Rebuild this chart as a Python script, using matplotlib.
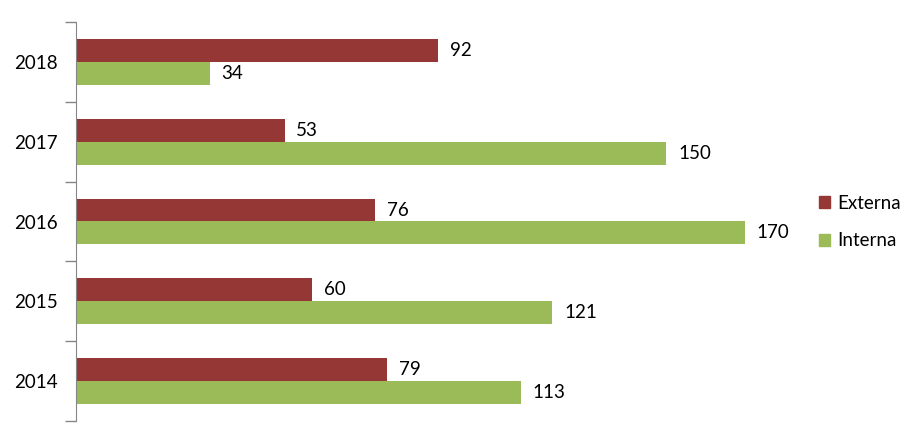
import numpy as np
import matplotlib.pyplot as plt
from matplotlib.patches import Patch

years = ['2014', '2015', '2016', '2017', '2018']
externa = [79, 60, 76, 53, 92]
interna = [113, 121, 170, 150, 34]

c_ext = '#953735'
c_int = '#9BBB59'

plt.rcParams['font.family'] = ['Lato', 'DejaVu Sans']
fs = 13.5

fig = plt.figure(figsize=(9.21, 4.44), dpi=100)
ax = fig.add_axes([76/921, 23/444, 787/921, 399/444])

y = np.arange(len(years))
h = 0.288
b1 = ax.barh(y + h/2, externa, height=h, color=c_ext)
b2 = ax.barh(y - h/2, interna, height=h, color=c_int)

for bars, vals in [(b1, externa), (b2, interna)]:
    for bar, v in zip(bars, vals):
        ax.text(v + 3, bar.get_y() + bar.get_height()/2, str(v),
                va='center', ha='left', fontsize=fs)

ax.set_xlim(0, 200)
ax.set_ylim(-0.5, len(years) - 0.5)
ax.set_yticks(y)
ax.set_yticklabels(years, fontsize=fs)
ax.tick_params(axis='y', length=0, pad=13)
ax.set_yticks(np.arange(-0.5, len(years)), minor=True)
ax.tick_params(axis='y', which='minor', length=8, color='#868686', width=1)
ax.set_xticks([])
for s in ['top', 'right', 'bottom']:
    ax.spines[s].set_visible(False)
ax.spines['left'].set_color('#868686')

handles = [Patch(color=c_ext, label='Externa'), Patch(color=c_int, label='Interna')]
fig.legend(handles=handles, loc='center left', bbox_to_anchor=(802/921, 222/444),
           frameon=False, fontsize=fs, handlelength=0.6, handleheight=0.6,
           handletextpad=0.4, labelspacing=1.1)

fig.savefig('out.png', dpi=100)
